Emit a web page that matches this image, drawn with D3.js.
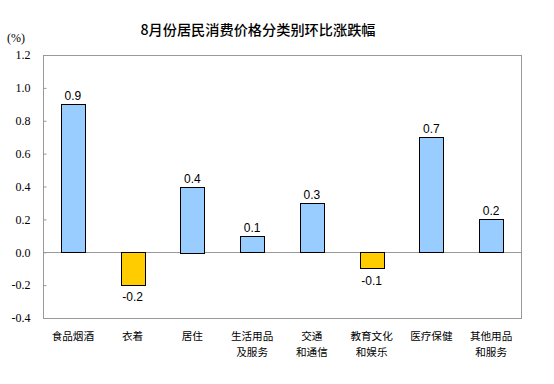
<!DOCTYPE html>
<html>
<head>
<meta charset="utf-8">
<script src="https://cdn.jsdelivr.net/npm/d3@7"></script>
<style>
  body { margin: 0; background: #fff; }
  svg { display: block; }
  .cat { font-family: "Noto Sans CJK SC", sans-serif; font-size: 10.6px; fill: #000; }
  .val { font-family: "Liberation Sans", Arial, sans-serif; font-size: 12px; fill: #000; }
  .ytick { font-family: "Liberation Serif", "Times New Roman", serif; font-size: 12px; fill: #000; }
</style>
</head>
<body>
<div id="chart"></div>
<script>
var categories = ["食品烟酒", "衣着", "居住", "生活用品\n及服务", "交通\n和通信", "教育文化\n和娱乐", "医疗保健", "其他用品\n和服务"];
var values = [0.9, -0.2, 0.4, 0.1, 0.3, -0.1, 0.7, 0.2];
var yTicks = [-0.4, -0.2, 0.0, 0.2, 0.4, 0.6, 0.8, 1.0, 1.2];

var width = 554, height = 384;
var margin = {top: 55, right: 33, bottom: 66, left: 43};
var plotW = width - margin.left - margin.right;
var plotH = height - margin.top - margin.bottom;

// plain hyphen for negatives, like the original
var fmt = function(d) { return (d < 0 ? "-" : "") + Math.abs(d).toFixed(1); };

var svg = d3.select("#chart").append("svg")
    .attr("width", width)
    .attr("height", height);

svg.append("text")
    .attr("x", 258)
    .attr("y", 35)
    .attr("text-anchor", "middle")
    .style("font-family", "'Noto Sans CJK SC', sans-serif")
    .style("font-size", "14.2px")
    .style("font-weight", "500")
    .text("8月份居民消费价格分类别环比涨跌幅");

svg.append("text")
    .attr("x", 16)
    .attr("y", 42)
    .attr("text-anchor", "middle")
    .attr("class", "ytick")
    .text("(%)");

var x = d3.scaleBand().domain(categories).range([0, plotW]).paddingInner(0.6).paddingOuter(0.3);
var y = d3.scaleLinear().domain([-0.4, 1.2]).range([plotH, 0]);

var g = svg.append("g").attr("transform", "translate(" + margin.left + "," + margin.top + ")");

// frame
g.append("rect")
    .attr("x", 0.5).attr("y", 0.5)
    .attr("width", plotW).attr("height", plotH)
    .attr("fill", "none")
    .attr("stroke", "#999")
    .attr("stroke-width", 1);

// y axis ticks inward
var yAxis = d3.axisLeft(y).tickValues(yTicks).tickSize(-3).tickPadding(13).tickFormat(fmt);
var ya = g.append("g").attr("transform", "translate(0.5,0)").call(yAxis);
ya.attr("font-family", null).attr("font-size", null);
ya.select(".domain").remove();
ya.selectAll("line").attr("stroke", "#999");
ya.selectAll("text").attr("class", "ytick").attr("fill", "#000")
    .style("font-family", "'Liberation Serif', 'Times New Roman', serif");

// zero line
g.append("line")
    .attr("x1", 0).attr("x2", plotW)
    .attr("y1", Math.round(y(0)) + 0.5).attr("y2", Math.round(y(0)) + 0.5)
    .attr("stroke", "#999");

// bars
g.selectAll(".bar").data(values).enter().append("rect")
    .attr("class", "bar")
    .attr("x", function(d, i) { return Math.round(x(categories[i])) + 0.5; })
    .attr("width", Math.round(x.bandwidth()))
    .attr("y", function(d) { return Math.round(y(Math.max(0, d))) + 0.5; })
    .attr("height", function(d) { return Math.round(Math.abs(y(d) - y(0))); })
    .attr("fill", function(d) { return d >= 0 ? "#99CCFF" : "#FFCC00"; })
    .attr("stroke", "#000")
    .attr("stroke-width", 1);

// value labels
g.selectAll(".val").data(values).enter().append("text")
    .attr("class", "val")
    .attr("text-anchor", "middle")
    .attr("x", function(d, i) { return x(categories[i]) + x.bandwidth() / 2; })
    .attr("y", function(d) { return d >= 0 ? y(d) - 4 : y(d) + 16; })
    .text(fmt);

// category labels, one text per line
categories.forEach(function(c, i) {
    c.split("\n").forEach(function(line, j) {
        g.append("text")
            .attr("class", "cat")
            .attr("text-anchor", "middle")
            .attr("x", x(c) + x.bandwidth() / 2)
            .attr("y", plotH + 22 + j * 15.5)
            .text(line);
    });
});
</script>
</body>
</html>
